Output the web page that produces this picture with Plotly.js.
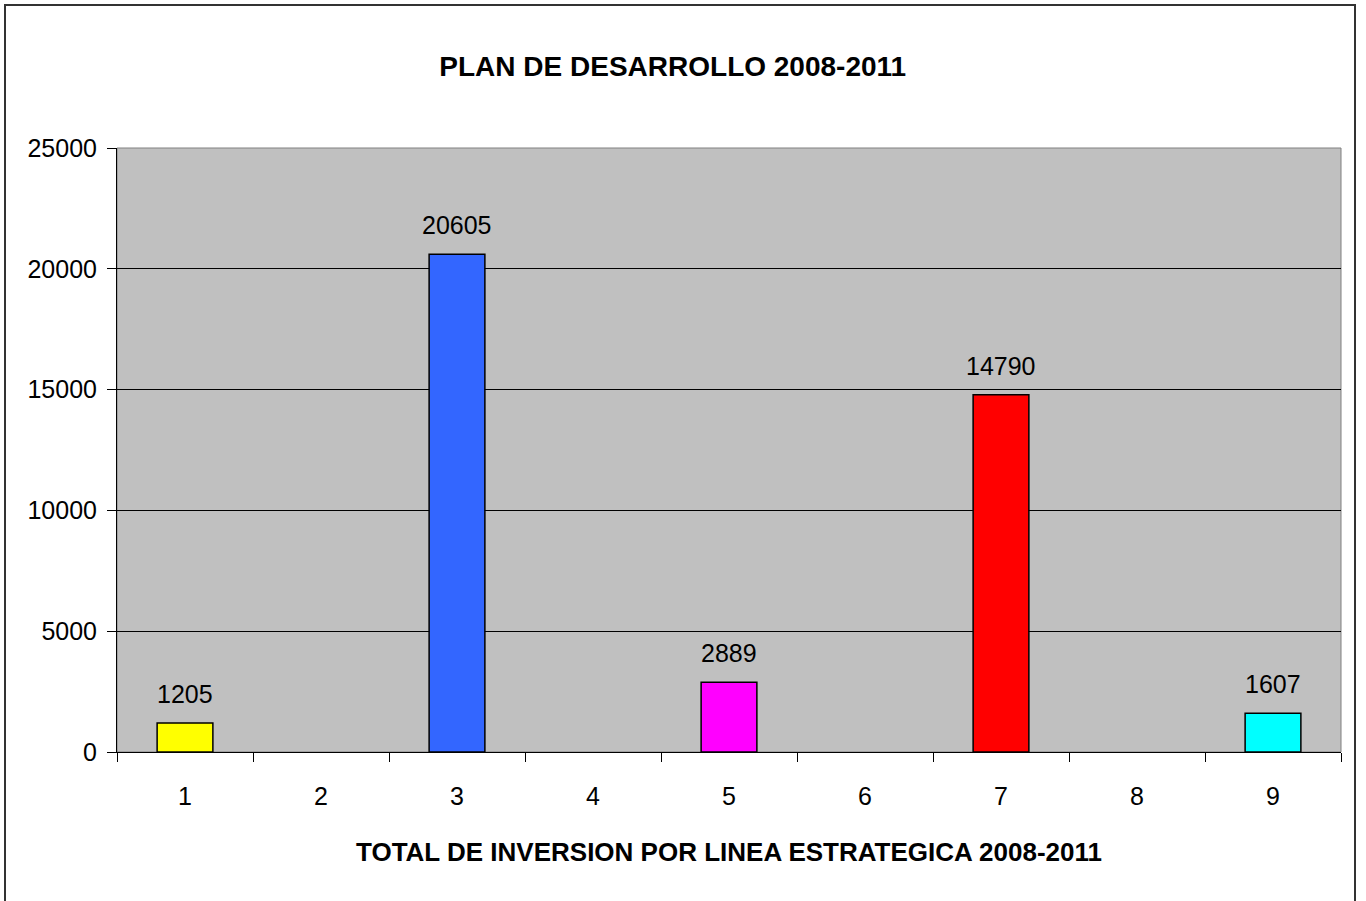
<!DOCTYPE html>
<html>
<head>
<meta charset="utf-8">
<script src="https://cdn.plot.ly/plotly-3.0.1.min.js"></script>
<style>
  html, body { margin: 0; padding: 0; background: #ffffff; overflow: hidden; }
  #frame { position: absolute; left: 4px; top: 4px; width: 1352px; height: 910px; border: 2px solid #333333; box-sizing: border-box; }
  #chart { position: absolute; left: 0; top: 0; width: 1366px; height: 901px; }
</style>
</head>
<body>
<div id="frame"></div>
<div id="chart"></div>
<script>
const categories = ["1", "2", "3", "4", "5", "6", "7", "8", "9"];
const values = [1205, null, 20605, null, 2889, null, 14790, null, 1607];
const labels = ["1205", "", "20605", "", "2889", "", "14790", "", "1607"];
const barColors = ["#FFFF00", "#3366FF", "#3366FF", "#3366FF", "#FF00FF", "#FF00FF", "#FF0000", "#FF0000", "#00FFFF"];
const yTicks = [0, 5000, 10000, 15000, 20000, 25000];
const titleText = "PLAN DE DESARROLLO 2008-2011";
const xTitleText = "TOTAL DE INVERSION POR LINEA ESTRATEGICA 2008-2011";

const font = "Liberation Sans, Arial, sans-serif";

const trace = {
  type: "bar",
  x: categories,
  y: values,
  marker: { color: barColors, line: { color: "#000000", width: 1.5 } },
  hoverinfo: "none"
};

const annotations = [];
values.forEach((v, i) => {
  if (labels[i] !== "") {
    annotations.push({
      x: i, y: v, xref: "x", yref: "y",
      text: labels[i], showarrow: false,
      yanchor: "bottom", yshift: 13,
      font: { family: font, size: 25, color: "#000000" }
    });
  }
});

const layout = {
  width: 1366, height: 901,
  paper_bgcolor: "rgba(0,0,0,0)",
  plot_bgcolor: "#C0C0C0",
  margin: { l: 117, r: 25, t: 148, b: 149 },
  showlegend: false,
  bargap: 0.59,
  title: {
    text: "<b>" + titleText + "</b>",
    x: 0.4925, xanchor: "center",
    y: 0.927, yanchor: "middle",
    font: { family: font, size: 28, color: "#000000" }
  },
  xaxis: {
    type: "category",
    range: [-0.5, 8.5],
    tickson: "boundaries",
    ticks: "outside", ticklen: 9, tickwidth: 1, tickcolor: "#000000",
    showline: true, linecolor: "#000000", linewidth: 1,
    showgrid: false, zeroline: false,
    ticklabelstandoff: 22,
    tickfont: { family: font, size: 25, color: "#000000" },
    title: {
      text: "<b>" + xTitleText + "</b>",
      standoff: 33,
      font: { family: font, size: 26, color: "#000000" }
    },
    fixedrange: true
  },
  yaxis: {
    range: [0, 25000],
    tickvals: yTicks,
    ticktext: yTicks.map(String),
    ticks: "outside", ticklen: 9, tickwidth: 1, tickcolor: "#000000",
    showline: true, linecolor: "#000000", linewidth: 1,
    showgrid: true, gridcolor: "#000000", gridwidth: 1,
    zeroline: false,
    ticklabelstandoff: 5,
    tickfont: { family: font, size: 25, color: "#000000" },
    fixedrange: true
  },
  shapes: [{
    type: "rect", xref: "paper", yref: "paper",
    x0: 0, x1: 1, y0: 0, y1: 1,
    line: { color: "#808080", width: 1 }, layer: "below"
  }],
  annotations: annotations
};

Plotly.newPlot("chart", [trace], layout, { displayModeBar: false, staticPlot: true });
</script>
</body>
</html>
